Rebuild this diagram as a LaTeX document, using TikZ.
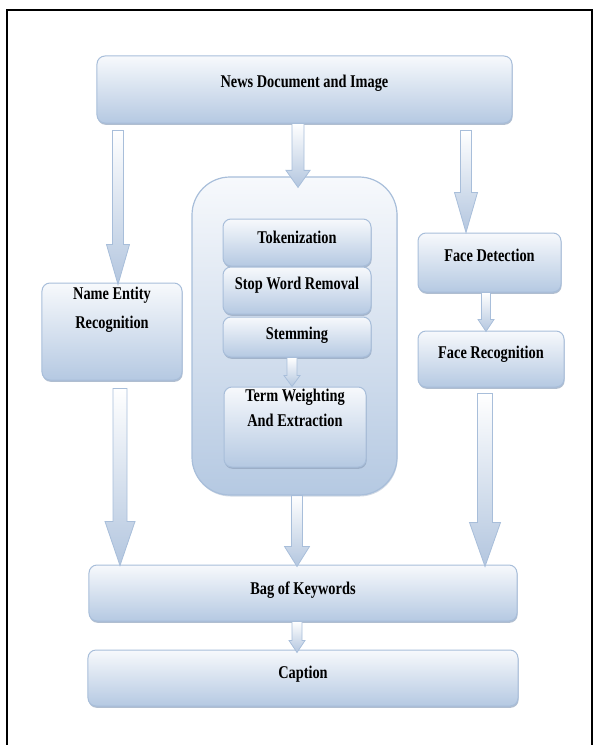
\documentclass[tikz,border=0pt]{standalone}
\usepackage{fontspec}
\newfontfamily\boxfont{Liberation Serif}[FakeStretch=0.8]
\usetikzlibrary{calc,shadows}
\definecolor{boxtop}{HTML}{F7F9FC}
\definecolor{boxmid}{HTML}{DAE3F0}
\definecolor{boxblue}{HTML}{B5C9E2}
\definecolor{boxline}{HTML}{A8BEDA}
\definecolor{shadowblue}{HTML}{8FA2BC}
\definecolor{arrowblue}{HTML}{B3C6DF}
\tikzset{
  box/.style={draw=boxline, line width=1bp, rounded corners=8bp,
    top color=boxtop, middle color=boxmid, bottom color=boxblue,
    drop shadow={shadow xshift=0.6bp, shadow yshift=-1.8bp, fill=shadowblue, opacity=0.7},
    font=\boxfont\bfseries\fontsize{18}{25}\selectfont, align=center,
    text height=12bp, text depth=12bp, inner sep=2bp},
  panel/.style={draw=boxline, line width=1.2bp, rounded corners=38bp,
    top color=boxtop, bottom color=boxblue,
    drop shadow={shadow xshift=0.6bp, shadow yshift=-1.5bp, fill=shadowblue, opacity=0.4}},
  fatarrow/.style={draw=boxline, line width=0.8bp, top color=white, bottom color=arrowblue},
  arrx/.store in=\arrx, arrshaft/.store in=\arrshaft, arrhead/.store in=\arrhead,
  arrlen/.store in=\arrlen, arrgap/.store in=\arrgap, arrdip/.store in=\arrdip,
  arrx=0, arrshaft=5.5, arrhead=11.5, arrlen=40, arrgap=7, arrdip=2
}
% block arrow from the bottom of #2 to the top of #3
\newcommand{\blockarrow}[3][]{%
  \path[fatarrow,#1] let \p1=(#2.south), \p2=(#3.north) in
    (\arrx bp-\arrshaft bp,\y1-\arrgap bp) -- (\arrx bp+\arrshaft bp,\y1-\arrgap bp)
    -- (\arrx bp+\arrshaft bp,\y2-\arrdip bp+\arrlen bp) -- (\arrx bp+\arrhead bp,\y2-\arrdip bp+\arrlen bp)
    -- (\arrx bp,\y2-\arrdip bp) -- (\arrx bp-\arrhead bp,\y2-\arrdip bp+\arrlen bp)
    -- (\arrx bp-\arrshaft bp,\y2-\arrdip bp+\arrlen bp) -- cycle;}

\begin{document}
\begin{tikzpicture}[x=1bp,y=-1bp]
\useasboundingbox (0,0) rectangle (594,745);
% frame
\draw[line width=2bp] (7,745) -- (7,10) -- (592,10) -- (592,745);
% boxes
\node[box, minimum width=415bp, minimum height=67bp, text depth=16bp] (news) at (304.5,89.5) {News Document and Image};
\node[box, minimum width=140bp, minimum height=97bp, text depth=18bp] (ner) at (112,331.5) {Name Entity\\[4bp]Recognition};
\node[panel, minimum width=205bp, minimum height=318bp] (proc) at (294.5,336) {};
\node[box, minimum width=148bp, minimum height=47bp, text depth=11bp] (tok) at (297,242.5) {Tokenization};
\node[box, minimum width=148bp, minimum height=47bp, text depth=15bp] (stop) at (297,290.5) {Stop Word Removal};
\node[box, minimum width=148bp, minimum height=40bp, text depth=8bp] (stem) at (297,337) {Stemming};
\node[box, minimum width=142bp, minimum height=80bp, text depth=14bp] (term) at (295,427) {Term Weighting\\And Extraction};
\node[box, minimum width=143bp, minimum height=59bp, text depth=15bp] (fdet) at (489.5,262.5) {Face Detection};
\node[box, minimum width=146bp, minimum height=56bp, text depth=14bp] (frec) at (491,359) {Face Recognition};
\node[box, minimum width=428bp, minimum height=56bp, text depth=10bp] (bag) at (303,593) {Bag of Keywords};
\node[box, minimum width=430bp, minimum height=56bp, text depth=12bp] (cap) at (303,678) {Caption};
% arrows
\blockarrow[arrx=118]{news}{ner}
\blockarrow[arrx=298, arrshaft=6, arrhead=12, arrlen=17, arrgap=0, arrdip=11]{news}{proc}
\blockarrow[arrx=466, arrdip=0]{news}{fdet}
\blockarrow[arrx=292, arrshaft=5, arrhead=8, arrlen=11, arrgap=0, arrdip=0]{stem}{term}
\blockarrow[arrx=486, arrshaft=4.5, arrhead=8, arrlen=12, arrgap=0, arrdip=1]{fdet}{frec}
\blockarrow[arrx=120, arrshaft=7, arrhead=15, arrlen=44, arrgap=8, arrdip=1]{ner}{bag}
\blockarrow[arrx=297, arrshaft=5.5, arrhead=12.5, arrlen=20, arrgap=0, arrdip=2]{proc}{bag}
\blockarrow[arrx=485, arrshaft=7.5, arrhead=15.5, arrlen=44, arrgap=6, arrdip=2]{frec}{bag}
\blockarrow[arrx=297, arrshaft=5, arrhead=8, arrlen=12, arrgap=0, arrdip=3]{bag}{cap}
\end{tikzpicture}
\end{document}
